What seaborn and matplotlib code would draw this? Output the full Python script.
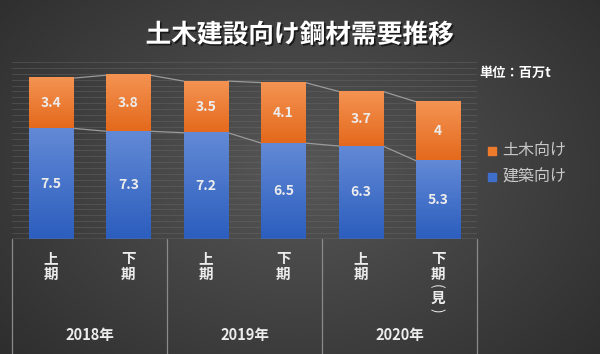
import numpy as np
import pandas as pd
import seaborn as sns
import matplotlib.pyplot as plt
import matplotlib.patheffects as pe
import matplotlib.transforms as mtransforms

# データ
years = ['2018年', '2019年', '2020年']
halves = [['上', '期'], ['下', '期'], ['上', '期'], ['下', '期'], ['上', '期'],
          ['下', '期', '(', '見', ')']]
kenchiku = [7.5, 7.3, 7.2, 6.5, 6.3, 5.3]   # 建築向け
doboku = [3.4, 3.8, 3.5, 4.1, 3.7, 4.0]     # 土木向け
doboku_labels = ['3.4', '3.8', '3.5', '4.1', '3.7', '4']

sns.set_theme(style='dark')
plt.rcParams['font.family'] = ['Noto Sans CJK JP', 'DejaVu Sans']

orange = '#EE7A2C'
blue = '#3F6FCA'
txt = '#ECECEC'

df = pd.DataFrame({'x': range(6), 'kenchiku': kenchiku, 'doboku': doboku})
df['total'] = df['kenchiku'] + df['doboku']

fig = plt.figure(figsize=(6, 3.54), dpi=100)

# 背景グラデーション
bg = fig.add_axes([0, 0, 1, 1], zorder=-10)
yy, xx = np.mgrid[0:354, 0:600]
r = np.sqrt(((xx - 300) / 420) ** 2 + ((yy - 170) / 300) ** 2)
r = np.clip(r, 0, 1)
g = 0.34 - 0.17 * r
bg.imshow(np.dstack([g, g, g]), aspect='auto', extent=[0, 1, 0, 1])
bg.axis('off')

ax = fig.add_axes([0.02, 0.325, 0.775, 0.5])
ax.set_facecolor('none')

sns.barplot(data=df, x='x', y='total', color=orange, width=0.57, ax=ax,
            saturation=1, edgecolor='#5a5a5a', linewidth=0.5, zorder=3)
sns.barplot(data=df, x='x', y='kenchiku', color=blue, width=0.57, ax=ax,
            saturation=1, edgecolor='#5a5a5a', linewidth=0.5, zorder=3)

ax.set_xlim(-0.5, 5.5)
ax.set_ylim(0, 12)

# 棒のグラデーション（上が明るい）
def grad(top, bot):
    t = np.array(plt.matplotlib.colors.to_rgb(top))
    b = np.array(plt.matplotlib.colors.to_rgb(bot))
    s = np.linspace(0, 1, 64)[:, None]
    return (t * (1 - s) + b * s)[:, None, :]

orange_img = grad('#F49352', '#E4691C')
blue_img = grad('#6289D5', '#2C5EBE')
for k, p in enumerate(ax.patches):
    x0, y0 = p.get_x(), p.get_y()
    w, h = p.get_width(), p.get_height()
    if k < 6:
        # 土木向け部分（建築の上）
        img = orange_img
        y0 = kenchiku[k]
        h = doboku[k]
    else:
        img = blue_img
    ax.imshow(img, extent=[x0, x0 + w, y0, y0 + h], aspect='auto', zorder=3.5,
              interpolation='bilinear')
ax.set_xlim(-0.5, 5.5)
ax.set_ylim(0, 12)

# 系列線
hw = 0.57 / 2
for col in ['total', 'kenchiku']:
    v = df[col].values
    for i in range(5):
        ax.plot([i + hw, i + 1 - hw], [v[i], v[i + 1]], color='#9a9a9a', lw=0.9, zorder=2)

# データラベル
for i in range(6):
    ax.text(i, kenchiku[i] / 2, f'{kenchiku[i]}', ha='center', va='center',
            color=txt, fontsize=10, fontweight='bold', zorder=5)
    ax.text(i, kenchiku[i] + doboku[i] / 2, doboku_labels[i], ha='center', va='center',
            color=txt, fontsize=10, fontweight='bold', zorder=5)

ax.set_yticks(np.arange(0, 12.01, 0.4))
ax.set_yticklabels([])
ax.set_xticks([])
ax.set_xlabel('')
ax.set_ylabel('')
ax.grid(axis='y', color='#6a6a6a', lw=0.5, alpha=0.6, zorder=0)
ax.grid(axis='x', visible=False)
for s in ax.spines.values():
    s.set_visible(False)
ax.tick_params(left=False, bottom=False)

# 多段の項目軸
ax.axhline(0, color='#8a8a8a', lw=1, zorder=4)
for xv in [-0.5, 1.5, 3.5, 5.5]:
    ax.plot([xv, xv], [0, -0.66], transform=ax.get_xaxis_transform(),
            color='#8a8a8a', lw=0.9, clip_on=False)

# 縦書きラベル（ピクセル位置で1文字ずつ）
char_y = {0: 258, 1: 274, 2: 286, 3: 297.5, 4: 310}
paren_tr = mtransforms.offset_copy(ax.get_xaxis_transform(), fig=fig, x=-1.6, units='points')
for i, chars in enumerate(halves):
    for k, ch in enumerate(chars):
        ypx = char_y[k]
        paren = ch in '()'
        ax.text(i, -(ypx - 239) / 177, ch,
                transform=paren_tr if paren else ax.get_xaxis_transform(),
                ha='center', va='center', color=txt,
                fontsize=10 if paren else 10.5,
                fontweight='normal' if paren else 'bold',
                rotation=-90 if paren else 0, rotation_mode='anchor', clip_on=False)
for j, yr in enumerate(years):
    ax.text(2 * j + 0.5, -(335 - 239) / 177, yr, transform=ax.get_xaxis_transform(),
            ha='center', va='center', color=txt, fontsize=10.5, fontweight='bold')

# タイトル・単位・凡例
fig.text(0.5, 1 - 35 / 354, '土木建設向け鋼材需要推移', ha='center', va='center',
         color='white', fontsize=18.5, fontweight='bold',
         path_effects=[pe.withSimplePatchShadow(offset=(1.2, -1.2), shadow_rgbFace='black', alpha=0.6)])
fig.text(479 / 600, 1 - 73 / 354, '単位：百万t', ha='left', va='center',
         color='white', fontsize=9.5, fontweight='bold')

for k, (lab, c) in enumerate([('土木向け', orange), ('建築向け', blue)]):
    yk = 1 - (151 + 26 * k) / 354
    fig.patches.append(plt.Rectangle((488 / 600, yk - 4 / 354), 8 / 600, 8 / 354,
                                     transform=fig.transFigure, color=c))
    fig.text(502 / 600, yk, lab, ha='left', va='center', color='#c8c8c8', fontsize=11.5)

fig.savefig('out.png', dpi=100)
